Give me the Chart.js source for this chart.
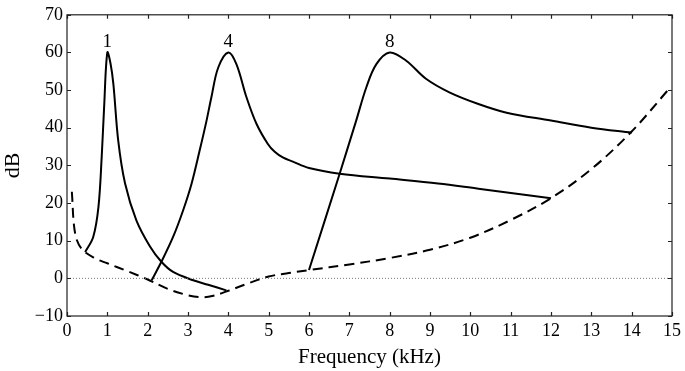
<!DOCTYPE html>
<html>
<head>
<meta charset="utf-8">
<script src="https://cdn.jsdelivr.net/npm/chart.js@4.4.0/dist/chart.umd.min.js"></script>
<style>
  html, body { margin:0; padding:0; background:#fff; }
  #wrap { width:685px; height:371px; }
</style>
</head>
<body>
<div id="wrap"><canvas id="c"></canvas></div>
<script>
// ====== DATA ======
// threshold curve (dashed)
const threshX = [0.12, 0.2, 0.36, 0.7, 1.0, 1.5, 2.0, 2.5, 3.0, 3.3, 3.6, 4.0, 4.5, 5.0, 5.5, 6, 7, 8, 9, 10, 11, 12, 13, 14, 14.9];
const threshY = [23, 12, 7.9, 5.3, 4.0, 1.9, -0.3, -2.8, -4.5, -5, -4.7, -3.3, -1.3, 0.5, 1.4, 2.2, 3.7, 5.4, 7.6, 10.8, 15.5, 21.3, 29, 39, 50];

// masker 1 kHz
const m1X = [0.45, 0.65, 0.78, 0.86, 0.92, 1.0, 1.08, 1.15, 1.27, 1.44, 1.72, 2.05, 2.34, 2.63, 3.13, 3.5, 3.95];
const m1Y = [7, 11, 19, 32.2, 45.4, 60, 57, 51.6, 36.6, 25.2, 15.4, 8.6, 4.4, 1.7, -0.5, -1.7, -3.2];

// masker 4 kHz
const m4X = [2.1, 2.34, 2.63, 2.88, 3.09, 3.29, 3.46, 3.58, 3.75, 4.0, 4.2, 4.45, 4.7, 4.98, 5.15, 5.35, 5.6, 6.0, 6.76, 8.0, 9.2, 10.2, 12];
const m4Y = [-0.5, 4.4, 11, 18.1, 25.2, 34, 41.9, 48.1, 56, 60, 56.9, 48.1, 41, 35.7, 33.6, 32.1, 31.0, 29.3, 27.8, 26.5, 25.2, 23.8, 21.3];

// masker 8 kHz
const m8X = [6.0, 6.76, 7.17, 7.42, 7.67, 8.0, 8.41, 8.9, 9.48, 10.2, 10.9, 12, 13, 14];
const m8Y = [2.2, 27.8, 41.9, 50.7, 56.9, 60, 57.8, 53, 49.4, 46.3, 44, 41.9, 40, 38.7];

const peakX = [1, 4, 8];
const peakY = [60, 60, 60];
const peakLabels = ['1', '4', '8'];

const xTicks = [0,1,2,3,4,5,6,7,8,9,10,11,12,13,14,15];
const yTicks = [-10,0,10,20,30,40,50,60,70];

const FONT = "'Liberation Serif', 'Times New Roman', serif";

function pts(xs, ys){ return xs.map((x,i)=>({x:x, y:ys[i]})); }

// box + inward ticks + peak labels
const frame = {
  id:'frame',
  afterDraw(chart){
    const {ctx, chartArea:a, scales} = chart;
    ctx.save();
    ctx.strokeStyle = '#222';
    ctx.lineWidth = 1.2;
    ctx.strokeRect(a.left, a.top, a.right-a.left, a.bottom-a.top);
    ctx.beginPath();
    xTicks.forEach(v=>{
      const px = Math.round(scales.x.getPixelForValue(v))+0.5;
      ctx.moveTo(px, a.bottom); ctx.lineTo(px, a.bottom-4);
      ctx.moveTo(px, a.top); ctx.lineTo(px, a.top+4);
    });
    yTicks.forEach(v=>{
      const py = Math.round(scales.y.getPixelForValue(v))+0.5;
      ctx.moveTo(a.left, py); ctx.lineTo(a.left+4, py);
      ctx.moveTo(a.right, py); ctx.lineTo(a.right-4, py);
    });
    ctx.stroke();
    ctx.fillStyle = '#000';
    ctx.font = "19px " + FONT;
    ctx.textAlign = 'center';
    ctx.textBaseline = 'alphabetic';
    peakLabels.forEach((t,i)=>{
      ctx.fillText(t, scales.x.getPixelForValue(peakX[i]), scales.y.getPixelForValue(peakY[i]) - 5);
    });
    ctx.restore();
  }
};

const solid = {borderColor:'#000', borderWidth:2, pointRadius:0, fill:false, tension:0.35};

new Chart(document.getElementById('c'), {
  type:'line',
  data:{
    datasets:[
      {data:[{x:0,y:0},{x:15,y:0}], borderColor:'#777', borderWidth:1, borderDash:[1,2], pointRadius:0, fill:false},
      Object.assign({data:pts(threshX, threshY), borderDash:[10,6]}, solid),
      Object.assign({data:pts(m1X, m1Y)}, solid),
      Object.assign({data:pts(m4X, m4Y)}, solid),
      Object.assign({data:pts(m8X, m8Y)}, solid)
    ]
  },
  options:{
    responsive:true,
    maintainAspectRatio:false,
    animation:false,
    layout:{padding:{top:14, right:12, left:0, bottom:0}},
    plugins:{legend:{display:false}, tooltip:{enabled:false}},
    scales:{
      x:{
        type:'linear', min:0, max:15,
        grid:{display:false, drawTicks:false},
        border:{display:false},
        afterBuildTicks(s){ s.ticks = xTicks.map(v=>({value:v})); },
        afterFit(s){ s.height = 55; },
        ticks:{color:'#000', padding:4, maxRotation:0, autoSkip:false, font:{family:FONT, size:18}},
        title:{display:true, text:'Frequency (kHz)', color:'#000', padding:{top:0, bottom:1}, font:{family:FONT, size:21}}
      },
      y:{
        type:'linear', min:-10, max:70,
        grid:{display:false, drawTicks:false},
        border:{display:false},
        afterBuildTicks(s){ s.ticks = yTicks.map(v=>({value:v})); },
        afterFit(s){ s.width = 67; },
        ticks:{color:'#000', padding:4, autoSkip:false, font:{family:FONT, size:18},
          callback:v=> v < 0 ? '\u2212' + Math.abs(v) : String(v)},
        title:{display:true, text:'dB', color:'#000', padding:{top:0, bottom:2}, font:{family:FONT, size:22}}
      }
    }
  },
  plugins:[frame]
});
</script>
</body>
</html>
